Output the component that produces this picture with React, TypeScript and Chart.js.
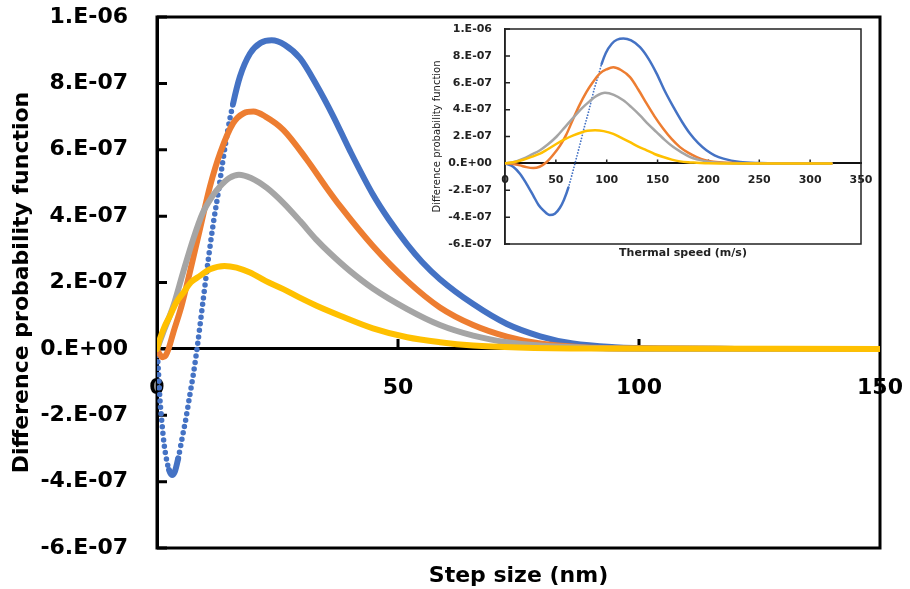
import React, { useEffect, useRef } from 'react';
import { Chart, registerables } from 'chart.js';

Chart.register(...registerables);

const FONT = 'DejaVu Sans';

// ---------- axis ticks ----------
const mainXTicks = [0, 50, 100, 150];
const insetXTicks = [0, 50, 100, 150, 200, 250, 300, 350];
const yTicks = [-6e-7, -4e-7, -2e-7, 0, 2e-7, 4e-7, 6e-7, 8e-7, 1e-6];
const yTickLabels = ['-6.E-07', '-4.E-07', '-2.E-07', '0.E+00', '2.E-07', '4.E-07', '6.E-07', '8.E-07', '1.E-06'];

const seriesColors = ['#4472C4', '#ED7D31', '#A5A5A5', '#FFC000'];

// ---------- main chart: step size (nm) ----------
const stepBlueX = [0, 0.3, 0.6, 1.0, 1.5, 2.0, 2.5, 3.1, 3.7, 4.4, 5.2, 6.0, 6.8, 7.5, 8.3, 9.6, 10.6, 11.7, 12.7, 13.6, 14.7, 15.8, 17.2, 19.3, 21.5, 23.8, 26.5, 29.7, 33.1, 36.6, 40, 44.8, 48, 51.9, 55, 58.7, 65.6, 72.6, 79.5, 86.3, 95, 105, 120, 150];
const stepBlueY = [0, -0.7e-7, -1.5e-7, -2.2e-7, -2.9e-7, -3.35e-7, -3.65e-7, -3.8e-7, -3.7e-7, -3.3e-7, -2.7e-7, -2.1e-7, -1.4e-7, -0.8e-7, 0, 1.5e-7, 2.65e-7, 3.8e-7, 4.7e-7, 5.6e-7, 6.6e-7, 7.4e-7, 8.2e-7, 8.9e-7, 9.22e-7, 9.3e-7, 9.16e-7, 8.75e-7, 7.95e-7, 7.0e-7, 5.98e-7, 4.65e-7, 3.92e-7, 3.15e-7, 2.62e-7, 2.1e-7, 1.35e-7, 0.75e-7, 0.38e-7, 0.16e-7, 0.05e-7, 0.01e-7, 0, 0];

const stepOrangeX = [0, 0.5, 1.2, 1.8, 2.4, 3.4, 5.1, 6.8, 8.9, 11.0, 13.1, 15.8, 18, 20, 22.5, 26.2, 31.1, 35.2, 38, 44.8, 51.9, 58.7, 65.6, 72.6, 79.5, 88, 100, 120, 150];
const stepOrangeY = [0, -0.15e-7, -0.25e-7, -0.2e-7, 0, 0.5e-7, 1.3e-7, 2.3e-7, 3.6e-7, 4.9e-7, 5.9e-7, 6.8e-7, 7.1e-7, 7.15e-7, 7.0e-7, 6.6e-7, 5.7e-7, 4.85e-7, 4.3e-7, 3.1e-7, 2.05e-7, 1.25e-7, 0.72e-7, 0.37e-7, 0.16e-7, 0.05e-7, 0.01e-7, 0, 0];

const stepGrayX = [0, 1.3, 3.4, 5.4, 7.5, 9.5, 11.5, 13.1, 15, 17, 19.5, 22.8, 26.2, 29.7, 33, 35.9, 40, 44.8, 51.9, 58.7, 65.6, 72.6, 79.5, 90, 105, 150];
const stepGrayY = [0, 0.5e-7, 1.3e-7, 2.3e-7, 3.3e-7, 4.1e-7, 4.6e-7, 4.9e-7, 5.15e-7, 5.25e-7, 5.15e-7, 4.85e-7, 4.4e-7, 3.85e-7, 3.3e-7, 2.88e-7, 2.35e-7, 1.82e-7, 1.2e-7, 0.72e-7, 0.4e-7, 0.2e-7, 0.1e-7, 0.03e-7, 0, 0];

const stepYellowX = [0, 0.6, 1.5, 2.7, 4, 5.5, 7, 8.9, 11, 14, 16.5, 19.3, 22.5, 26.2, 29.5, 33.1, 38, 44.8, 51.9, 58.7, 65.6, 75, 90, 150];
const stepYellowY = [0, 0.3e-7, 0.65e-7, 1.0e-7, 1.4e-7, 1.7e-7, 2.0e-7, 2.2e-7, 2.4e-7, 2.5e-7, 2.45e-7, 2.3e-7, 2.05e-7, 1.8e-7, 1.55e-7, 1.3e-7, 1.0e-7, 0.62e-7, 0.35e-7, 0.2e-7, 0.1e-7, 0.04e-7, 0.01e-7, 0];

// ---------- inset chart: thermal speed (m/s) ----------
const speedBlueX = [0, 8, 14.7, 21, 27.8, 33, 37.7, 44, 49, 54, 58, 62.3, 68.8, 74, 78, 82, 85, 88, 92, 95, 99, 105, 110, 116.4, 124, 132.7, 141, 149, 157, 165.5, 174, 182, 190, 198, 206, 214.7, 231, 250, 270, 321];
const speedBlueY = [0, -0.25e-7, -0.77e-7, -1.5e-7, -2.4e-7, -3.1e-7, -3.5e-7, -3.85e-7, -3.75e-7, -3.3e-7, -2.7e-7, -1.8e-7, 0, 1.5e-7, 2.7e-7, 3.8e-7, 4.7e-7, 5.6e-7, 6.6e-7, 7.4e-7, 8.2e-7, 8.9e-7, 9.2e-7, 9.3e-7, 9.15e-7, 8.65e-7, 7.8e-7, 6.7e-7, 5.4e-7, 4.2e-7, 3.1e-7, 2.2e-7, 1.5e-7, 0.97e-7, 0.6e-7, 0.35e-7, 0.1e-7, 0.02e-7, 0, 0];

const speedOrangeX = [0, 8, 14.7, 21, 27.8, 34, 41, 47, 54, 60, 67, 73, 80, 86, 93.4, 100, 106.5, 114, 122.9, 131, 139.3, 147, 155.6, 164, 172, 180, 188.5, 196, 205, 220, 240, 321];
const speedOrangeY = [0, -0.05e-7, -0.15e-7, -0.28e-7, -0.35e-7, -0.25e-7, 0.1e-7, 0.6e-7, 1.3e-7, 2.1e-7, 3.3e-7, 4.3e-7, 5.3e-7, 6.0e-7, 6.7e-7, 7.0e-7, 7.15e-7, 6.95e-7, 6.42e-7, 5.5e-7, 4.44e-7, 3.5e-7, 2.58e-7, 1.8e-7, 1.21e-7, 0.8e-7, 0.47e-7, 0.25e-7, 0.12e-7, 0.04e-7, 0, 0];

const speedGrayX = [0, 8, 18, 26, 34.4, 42, 50.8, 59, 67.2, 75, 83.6, 90, 98.3, 107, 116.3, 124, 132.7, 141, 149, 157, 165.5, 174, 182, 190, 198, 210, 230, 321];
const speedGrayY = [0, 0.08e-7, 0.35e-7, 0.65e-7, 0.98e-7, 1.4e-7, 2.0e-7, 2.7e-7, 3.4e-7, 4.05e-7, 4.65e-7, 5.02e-7, 5.25e-7, 5.1e-7, 4.69e-7, 4.2e-7, 3.57e-7, 2.9e-7, 2.33e-7, 1.75e-7, 1.21e-7, 0.8e-7, 0.47e-7, 0.28e-7, 0.15e-7, 0.05e-7, 0, 0];

const speedYellowX = [0, 8, 18, 26, 34.4, 42, 50.8, 59, 67.2, 75, 81, 88.5, 97, 106.5, 114, 122.9, 131, 139.3, 147, 155.6, 164, 172, 180, 188.5, 200, 215, 321];
const speedYellowY = [0, 0.08e-7, 0.27e-7, 0.48e-7, 0.72e-7, 1.05e-7, 1.46e-7, 1.8e-7, 2.08e-7, 2.3e-7, 2.42e-7, 2.46e-7, 2.4e-7, 2.2e-7, 1.92e-7, 1.58e-7, 1.25e-7, 0.97e-7, 0.7e-7, 0.47e-7, 0.28e-7, 0.15e-7, 0.08e-7, 0.05e-7, 0.01e-7, 0, 0];

const toPoints = (xs: number[], ys: number[]) => xs.map((x, i) => ({ x, y: ys[i] }));

type FrameOpts = { lw: number; color: string; yTickLen: number; xTickLen: number; xTickVals: number[] };
const makeFrame = (o: FrameOpts) => ({
  id: 'frame',
  beforeDatasetsDraw(chart: any) {
    const { ctx, chartArea: a, scales } = chart;
    ctx.save();
    ctx.strokeStyle = o.color;
    ctx.lineWidth = o.lw;
    ctx.strokeRect(a.left, a.top, a.right - a.left, a.bottom - a.top);
    ctx.beginPath();
    for (const v of yTicks) {
      const py = scales.y.getPixelForValue(v);
      ctx.moveTo(a.left, py);
      ctx.lineTo(a.left + o.yTickLen, py);
    }
    const y0 = scales.y.getPixelForValue(0);
    for (const v of o.xTickVals) {
      const px = scales.x.getPixelForValue(v);
      ctx.moveTo(px, y0);
      ctx.lineTo(px, y0 - o.xTickLen);
    }
    ctx.stroke();
    ctx.restore();
  },
});

const buildDatasets = (
  sets: { xs: number[]; ys: number[] }[],
  width: number,
  dotWidth: number,
  dash: number[],
  steep: number
) =>
  sets.map((s, i) => ({
    data: toPoints(s.xs, s.ys),
    borderColor: seriesColors[i],
    backgroundColor: seriesColors[i],
    borderWidth: width,
    borderCapStyle: 'round',
    borderJoinStyle: 'round',
    pointRadius: 0,
    fill: false,
    cubicInterpolationMode: 'monotone',
    order: [3, 2, 1, 0][i],
    xAxisID: 'x',
    yAxisID: 'y',
    segment:
      i === 0
        ? {
            borderDash: (ctx: any) => {
              const dx = Math.abs(ctx.p1.x - ctx.p0.x);
              const dy = Math.abs(ctx.p1.y - ctx.p0.y);
              return dy > steep * dx ? dash : undefined;
            },
            borderWidth: (ctx: any) => {
              const dx = Math.abs(ctx.p1.x - ctx.p0.x);
              const dy = Math.abs(ctx.p1.y - ctx.p0.y);
              return dy > steep * dx ? dotWidth : undefined;
            },
          }
        : undefined,
  }));

const yTickCallback = (_v: any, i: number) => yTickLabels[i];

const noHorizPad = (s: any) => {
  s.paddingLeft = 0;
  s.paddingRight = 0;
};

export default function App() {
  const mainRef = useRef<HTMLCanvasElement>(null);
  const insetRef = useRef<HTMLCanvasElement>(null);

  useEffect(() => {
    const bold22 = { family: FONT, size: 22, weight: 'bold' as const };
    const main = new Chart(mainRef.current as HTMLCanvasElement, {
      type: 'line',
      data: {
        datasets: buildDatasets(
          [
            { xs: stepBlueX, ys: stepBlueY },
            { xs: stepOrangeX, ys: stepOrangeY },
            { xs: stepGrayX, ys: stepGrayY },
            { xs: stepYellowX, ys: stepYellowY },
          ],
          6,
          5.5,
          [0, 6.5],
          4
        ) as any,
      },
      options: {
        animation: false,
        responsive: false,
        events: [],
        layout: { padding: { left: 0, right: 30, top: 17, bottom: 0 } },
        plugins: { legend: { display: false }, tooltip: { enabled: false } },
        scales: {
          x: {
            type: 'linear',
            position: { y: 0 } as any,
            min: 0,
            max: 150,
            afterBuildTicks: (s: any) => {
              s.ticks = mainXTicks.map((v) => ({ value: v }));
            },
            afterFit: noHorizPad,
            ticks: { font: bold22, color: '#000', padding: 26, maxRotation: 0, autoSkip: false },
            grid: { display: false, drawTicks: false },
            border: { display: true, width: 3, color: '#000' },
          },
          xt: {
            type: 'linear',
            position: 'bottom',
            min: 0,
            max: 150,
            ticks: { display: false },
            grid: { display: false, drawTicks: false },
            border: { display: false },
            title: { display: true, text: 'Step size (nm)', font: bold22, color: '#000', padding: { top: 0, bottom: 0 } },
            afterFit: (s: any) => {
              s.height = 41;
              s.paddingLeft = 0;
              s.paddingRight = 0;
            },
          },
          y: {
            type: 'linear',
            position: 'left',
            min: -6e-7,
            max: 1e-6,
            afterBuildTicks: (s: any) => {
              s.ticks = yTicks.map((v) => ({ value: v }));
            },
            ticks: { callback: yTickCallback as any, font: bold22, color: '#000', padding: 29, autoSkip: false },
            grid: { display: false, drawTicks: false },
            border: { display: true, width: 3, color: '#000' },
            title: {
              display: true,
              text: 'Difference probability function',
              font: bold22,
              color: '#000',
              padding: { top: 9, bottom: 0 },
            },
            afterFit: (s: any) => {
              s.width = 157;
              s.paddingTop = 0;
              s.paddingBottom = 0;
            },
          },
        } as any,
      },
      plugins: [makeFrame({ lw: 3, color: '#000', yTickLen: 10, xTickLen: 10, xTickVals: [50, 100] })],
    });

    const bold11 = { family: FONT, size: 11, weight: 'bold' as const };
    const inset = new Chart(insetRef.current as HTMLCanvasElement, {
      type: 'line',
      data: {
        datasets: buildDatasets(
          [
            { xs: speedBlueX, ys: speedBlueY },
            { xs: speedOrangeX, ys: speedOrangeY },
            { xs: speedGrayX, ys: speedGrayY },
            { xs: speedYellowX, ys: speedYellowY },
          ],
          2.5,
          1.8,
          [0, 3],
          3
        ) as any,
      },
      options: {
        animation: false,
        responsive: false,
        events: [],
        layout: { padding: { left: 0, right: 17, top: 10, bottom: 0 } },
        plugins: { legend: { display: false }, tooltip: { enabled: false } },
        scales: {
          x: {
            type: 'linear',
            position: { y: 0 } as any,
            min: 0,
            max: 350,
            afterBuildTicks: (s: any) => {
              s.ticks = insetXTicks.map((v) => ({ value: v }));
            },
            afterFit: noHorizPad,
            ticks: { font: bold11, color: '#222', padding: 10, maxRotation: 0, autoSkip: false },
            grid: { display: false, drawTicks: false },
            border: { display: true, width: 2, color: '#111' },
          },
          xt: {
            type: 'linear',
            position: 'bottom',
            min: 0,
            max: 350,
            ticks: { display: false },
            grid: { display: false, drawTicks: false },
            border: { display: false },
            title: {
              display: true,
              text: 'Thermal speed (m/s)',
              font: bold11,
              color: '#222',
              padding: { top: 0, bottom: 0 },
            },
            afterFit: (s: any) => {
              s.height = 16;
              s.paddingLeft = 0;
              s.paddingRight = 0;
            },
          },
          y: {
            type: 'linear',
            position: 'left',
            min: -6e-7,
            max: 1e-6,
            afterBuildTicks: (s: any) => {
              s.ticks = yTicks.map((v) => ({ value: v }));
            },
            ticks: { callback: yTickCallback as any, font: bold11, color: '#222', padding: 13, autoSkip: false },
            grid: { display: false, drawTicks: false },
            border: { display: true, width: 1.5, color: '#222' },
            title: {
              display: true,
              text: 'Difference probability function',
              font: { family: FONT, size: 10, weight: 'normal' },
              color: '#222',
              padding: { top: 3, bottom: 0 },
            },
            afterFit: (s: any) => {
              s.width = 77;
              s.paddingTop = 0;
              s.paddingBottom = 0;
            },
          },
        } as any,
      },
      plugins: [makeFrame({ lw: 1.5, color: '#222', yTickLen: 5, xTickLen: 4, xTickVals: [50, 100, 150, 200, 250, 300] })],
    });

    return () => {
      main.destroy();
      inset.destroy();
    };
  }, []);

  return (
    <div style={{ position: 'absolute', left: 0, top: 0, width: 910, height: 589, background: '#fff' }}>
      <canvas ref={mainRef} width={910} height={589} style={{ position: 'absolute', left: 0, top: 0 }} />
      <div style={{ position: 'absolute', left: 428, top: 19, width: 450, height: 241, background: '#fff' }}>
        <canvas ref={insetRef} width={450} height={241} style={{ position: 'absolute', left: 0, top: 0 }} />
      </div>
    </div>
  );
}
